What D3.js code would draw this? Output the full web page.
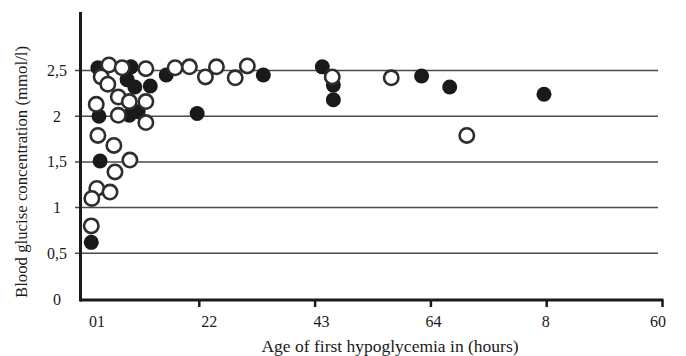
<!DOCTYPE html>
<html>
<head>
<meta charset="utf-8">
<script src="https://cdn.jsdelivr.net/npm/d3@7"></script>
<style>
  html, body { margin: 0; padding: 0; background: #fff; }
  svg { display: block; }
  text { font-family: "Liberation Serif", "Times New Roman", serif; fill: #1a1a1a; }
</style>
</head>
<body>
<svg id="chart" width="686" height="356"></svg>
<script>
// Age of first hypoglycemia (hours) vs. blood glucose (mmol/l)
const filledAge = [2.7, 8.7, 8.0, 9.4, 12.2, 15.1, 2.9, 8.4, 10.0, 20.7, 3.1, 1.5, 32.7, 43.4, 45.4, 45.4, 61.4, 66.5, 83.6];
const filledGlucose = [2.53, 2.54, 2.40, 2.32, 2.33, 2.45, 2.00, 2.01, 2.05, 2.03, 1.51, 0.62, 2.45, 2.54, 2.34, 2.18, 2.44, 2.32, 2.24];

const openAge = [4.7, 7.1, 11.4, 3.3, 4.5, 6.4, 2.4, 8.4, 11.4, 6.4, 11.4, 16.7, 19.3, 22.2, 24.2, 27.6, 29.8, 45.2, 55.9, 69.6,
                 2.7, 5.6, 8.5, 5.8, 2.5, 4.9, 1.6, 1.5];
const openGlucose = [2.56, 2.53, 2.52, 2.43, 2.35, 2.21, 2.13, 2.16, 2.16, 2.01, 1.93, 2.53, 2.54, 2.43, 2.54, 2.42, 2.55, 2.43, 2.42, 1.79,
                     1.79, 1.68, 1.52, 1.39, 1.21, 1.17, 1.10, 0.80];

const xTickValues = [0, 21, 42, 63, 84, 105];
const xTickLabels = ["01", "22", "43", "64", "8", "60"];
const yTickValues = [0, 0.5, 1, 1.5, 2, 2.5];
const yTickLabels = ["0", "0,5", "1", "1,5", "2", "2,5"];

const xTitle = "Age of first hypoglycemia in (hours)";
const yTitle = "Blood glucise concentration (mmol/l)";

const svg = d3.select("#chart");
const ink = "#1a1a1a";

const x = d3.scaleLinear().domain([0, 105]).range([83, 662]);
const y = d3.scaleLinear().domain([0, 3.14]).range([299, 12]);
// tick labels sit on their own evenly spaced slots
const xLabelPos = d3.scalePoint().domain(xTickLabels).range([97, 658]);

// horizontal gridlines
svg.append("g")
  .selectAll("line")
  .data(yTickValues.filter(v => v > 0))
  .join("line")
  .attr("x1", 75).attr("x2", 658)
  .attr("y1", d => y(d)).attr("y2", d => y(d))
  .attr("stroke", "#4a4a4a").attr("stroke-width", 1.5);

// y tick labels
svg.append("g")
  .selectAll("text")
  .data(yTickValues)
  .join("text")
  .attr("x", 57)
  .attr("y", d => y(d))
  .attr("dy", "0.35em")
  .attr("text-anchor", "middle")
  .attr("font-size", 16)
  .text((d, i) => yTickLabels[i]);

// x axis: line with downward ticks
const xAxis = d3.axisBottom(x).tickValues(xTickValues.slice(1)).tickSize(7).tickSizeOuter(0).tickFormat("");
const gx = svg.append("g").attr("transform", `translate(0,${y(0) + 1})`).call(xAxis);
gx.select(".domain").attr("d", `M${x(0) - 3},0H${x(105) + 1.5}`).attr("stroke", ink).attr("stroke-width", 3);
gx.selectAll(".tick line").attr("stroke", ink).attr("stroke-width", 2.5);

// x tick labels
svg.append("g")
  .selectAll("text")
  .data(xTickLabels)
  .join("text")
  .attr("x", d => xLabelPos(d))
  .attr("y", 327)
  .attr("text-anchor", "middle")
  .attr("font-size", 16)
  .text(d => d);

// y axis line
svg.append("line")
  .attr("x1", 80.5).attr("x2", 80.5)
  .attr("y1", y(3.14)).attr("y2", y(0) + 2.5)
  .attr("stroke", ink).attr("stroke-width", 3);

// filled markers
svg.append("g")
  .selectAll("circle")
  .data(filledAge.map((a, i) => [a, filledGlucose[i]]))
  .join("circle")
  .attr("cx", d => x(d[0])).attr("cy", d => y(d[1]))
  .attr("r", 7.5)
  .attr("fill", ink);

// open markers
svg.append("g")
  .selectAll("circle")
  .data(openAge.map((a, i) => [a, openGlucose[i]]))
  .join("circle")
  .attr("cx", d => x(d[0])).attr("cy", d => y(d[1]))
  .attr("r", 7.2)
  .attr("fill", "#fff")
  .attr("stroke", "#2e2e2e")
  .attr("stroke-width", 2.6);

// axis titles
svg.append("text")
  .attr("x", 390).attr("y", 352)
  .attr("text-anchor", "middle")
  .attr("font-size", 17.5)
  .text(xTitle);

svg.append("text")
  .attr("transform", "translate(27,172) rotate(-90)")
  .attr("text-anchor", "middle")
  .attr("font-size", 16.8)
  .text(yTitle);
</script>
</body>
</html>
